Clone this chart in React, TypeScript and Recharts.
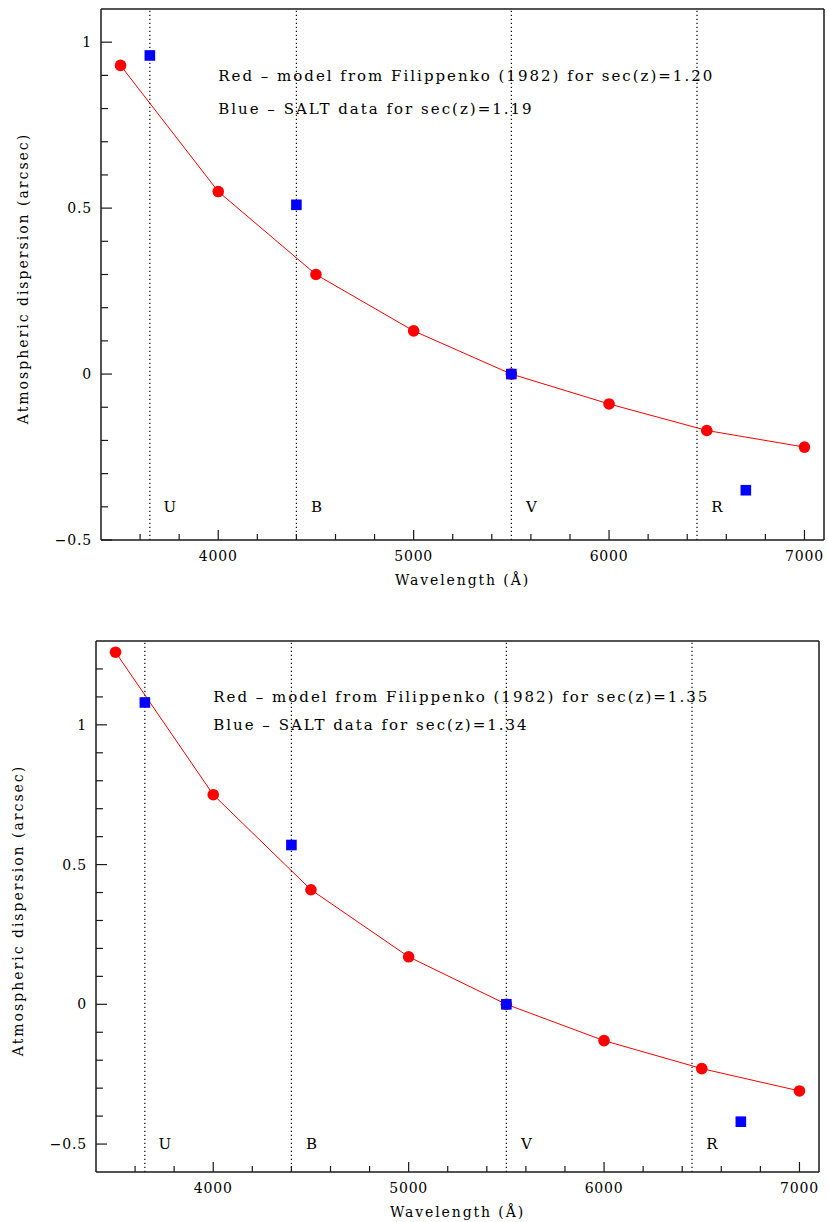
import {
  ComposedChart,
  Line,
  Scatter,
  XAxis,
  YAxis,
  ReferenceLine,
  ReferenceDot,
  Label,
} from "recharts";

// model (Filippenko 1982) and SALT measurements
const wavelengths = [3500, 4000, 4500, 5000, 5500, 6000, 6500, 7000];
const modelTop = [0.93, 0.55, 0.3, 0.13, 0, -0.09, -0.17, -0.22];
const modelBottom = [1.26, 0.75, 0.41, 0.17, 0, -0.13, -0.23, -0.31];

const saltWavelengths = [3650, 4400, 5500, 6700];
const saltTop = [0.96, 0.51, 0, -0.35];
const saltBottom = [1.08, 0.57, 0, -0.42];

const bandNames = ["U", "B", "V", "R"];
const bandWavelengths = [3650, 4400, 5500, 6450];

const xTicks = [
  3600, 3800, 4000, 4200, 4400, 4600, 4800, 5000, 5200, 5400, 5600, 5800,
  6000, 6200, 6400, 6600, 6800, 7000,
];
const yTicksTop = [
  -0.5, -0.4, -0.3, -0.2, -0.1, 0, 0.1, 0.2, 0.3, 0.4, 0.5, 0.6, 0.7, 0.8,
  0.9, 1.0,
];
const yTicksBottom = [
  -0.5, -0.4, -0.3, -0.2, -0.1, 0, 0.1, 0.2, 0.3, 0.4, 0.5, 0.6, 0.7, 0.8,
  0.9, 1.0, 1.1, 1.2,
];

const notesTop = [
  "Red – model from Filippenko (1982) for sec(z)=1.20",
  "Blue – SALT data for sec(z)=1.19",
];
const notesBottom = [
  "Red – model from Filippenko (1982) for sec(z)=1.35",
  "Blue – SALT data for sec(z)=1.34",
];

const FONT = "'DejaVu Serif', serif";
const INK = "#1a1a1a";

const fmtY = (v: number) => {
  const s = String(Math.abs(v));
  return v < 0 ? "\u2212" + s : s;
};
const isMajorY = (v: number) => Math.abs(v * 2 - Math.round(v * 2)) < 1e-6;
const isMajorX = (v: number) => v % 1000 === 0;

function BottomTick(props: any) {
  const { x, y, payload } = props;
  const v = payload.value;
  const major = isMajorX(v);
  return (
    <g>
      <line x1={x} y1={y} x2={x} y2={y - (major ? 10 : 6)} stroke={INK} strokeWidth={1.2} />
      {major && (
        <text x={x} y={y + 21} textAnchor="middle" fontFamily={FONT} fontSize={14} letterSpacing={0.8} fill="#000">
          {v}
        </text>
      )}
    </g>
  );
}

function TopTick(props: any) {
  const { x, y, payload } = props;
  const major = isMajorX(payload.value);
  return <line x1={x} y1={y} x2={x} y2={y + (major ? 10 : 6)} stroke={INK} strokeWidth={1.2} />;
}

function LeftTick(props: any) {
  const { x, y, payload } = props;
  const v = payload.value;
  const major = isMajorY(v);
  return (
    <g>
      <line x1={x} y1={y} x2={x + (major ? 11 : 7)} y2={y} stroke={INK} strokeWidth={1.2} />
      {major && (
        <text x={x - 9} y={y} dy="0.36em" textAnchor="end" fontFamily={FONT} fontSize={14} letterSpacing={0.8} fill="#000">
          {fmtY(v)}
        </text>
      )}
    </g>
  );
}

function RightTick(props: any) {
  const { x, y, payload } = props;
  const major = isMajorY(payload.value);
  return <line x1={x} y1={y} x2={x - (major ? 11 : 7)} y2={y} stroke={INK} strokeWidth={1.2} />;
}

interface PanelProps {
  model: number[];
  salt: number[];
  yDomain: [number, number];
  yTicks: number[];
  notes: string[];
  noteY: number[];
  bandLabelY: number;
  height: number;
  margin: { top: number; right: number; bottom: number; left: number };
}

function Panel({ model, salt, yDomain, yTicks, notes, noteY, bandLabelY, height, margin }: PanelProps) {
  const modelData = wavelengths.map((x, i) => ({ x, y: model[i] }));
  const saltData = saltWavelengths.map((x, i) => ({ x, y: salt[i] }));
  const axisLine = { stroke: INK, strokeWidth: 1.5 };
  return (
    <ComposedChart width={828} height={height} margin={margin}>
      <XAxis
        xAxisId="b"
        dataKey="x"
        type="number"
        domain={[3400, 7100]}
        ticks={xTicks}
        interval={0}
        tickSize={0}
        tickMargin={0}
        tickLine={false}
        axisLine={axisLine}
        tick={<BottomTick />}
        height={50}
      >
        <Label
          content={(p: any) => {
            const vb = p.viewBox;
            return (
              <text x={vb.x + vb.width / 2} y={vb.y + 45} textAnchor="middle" fontFamily={FONT} fontSize={14} letterSpacing={1.9} fill="#000">
                Wavelength (Å)
              </text>
            );
          }}
        />
      </XAxis>
      <XAxis
        xAxisId="t"
        orientation="top"
        dataKey="x"
        type="number"
        domain={[3400, 7100]}
        ticks={xTicks}
        interval={0}
        tickSize={0}
        tickMargin={0}
        tickLine={false}
        axisLine={axisLine}
        tick={<TopTick />}
        height={1}
      />
      <YAxis
        yAxisId="l"
        dataKey="y"
        type="number"
        domain={yDomain}
        ticks={yTicks}
        interval={0}
        tickSize={0}
        tickMargin={0}
        tickLine={false}
        axisLine={axisLine}
        tick={<LeftTick />}
        width={70}
      >
        <Label
          content={(p: any) => {
            const vb = p.viewBox;
            const cx = vb.x + vb.width - 78;
            const cy = vb.y + vb.height / 2 + 4;
            return (
              <text x={cx} y={cy} dy="0.36em" transform={`rotate(-90 ${cx} ${cy})`} textAnchor="middle" fontFamily={FONT} fontSize={14} letterSpacing={2} fill="#000">
                Atmospheric dispersion (arcsec)
              </text>
            );
          }}
        />
      </YAxis>
      <YAxis
        yAxisId="r"
        orientation="right"
        type="number"
        domain={yDomain}
        ticks={yTicks}
        interval={0}
        tickSize={0}
        tickMargin={0}
        tickLine={false}
        axisLine={axisLine}
        tick={<RightTick />}
        width={1}
      />
      {bandWavelengths.map((wl) => (
        <ReferenceLine key={wl} xAxisId="b" yAxisId="l" x={wl} stroke="#000" strokeWidth={1.2} strokeDasharray="1.3 2.7" />
      ))}
      {bandWavelengths.map((wl, i) => (
        <ReferenceDot
          key={"lab" + wl}
          xAxisId="b"
          yAxisId="l"
          x={wl}
          y={bandLabelY}
          r={0}
          shape={(p: any) => (
            <text x={p.cx + 20} y={p.cy} dy="0.36em" textAnchor="middle" fontFamily={FONT} fontSize={15} fill="#000">
              {bandNames[i]}
            </text>
          )}
        />
      ))}
      {notes.map((n, i) => (
        <ReferenceDot
          key={"note" + i}
          xAxisId="b"
          yAxisId="l"
          x={4000}
          y={noteY[i]}
          r={0}
          shape={(p: any) => (
            <text x={p.cx} y={p.cy} dy="0.36em" fontFamily={FONT} fontSize={15} letterSpacing={2} fill="#000">
              {n}
            </text>
          )}
        />
      ))}
      <Line
        xAxisId="b"
        yAxisId="l"
        data={modelData}
        dataKey="y"
        type="linear"
        stroke="#ff0000"
        strokeWidth={1}
        dot={{ r: 5.8, fill: "#ff0000", stroke: "#ff0000", strokeWidth: 0 }}
        isAnimationActive={false}
      />
      <Scatter
        xAxisId="b"
        yAxisId="l"
        data={saltData}
        dataKey="y"
        fill="#0000ff"
        shape={(p: any) => <rect x={p.cx - 5.3} y={p.cy - 5.3} width={10.6} height={10.6} fill="#0000ff" />}
        isAnimationActive={false}
      />
    </ComposedChart>
  );
}

export default function App() {
  return (
    <div style={{ position: "absolute", left: 0, top: 0, width: 828, height: 1222, background: "#fff" }}>
      <Panel
        model={modelTop}
        salt={saltTop}
        yDomain={[-0.5, 1.1]}
        yTicks={yTicksTop}
        notes={notesTop}
        noteY={[0.9, 0.8]}
        bandLabelY={-0.4}
        height={600}
        margin={{ top: 8, right: 3, bottom: 10, left: 31 }}
      />
      <Panel
        model={modelBottom}
        salt={saltBottom}
        yDomain={[-0.6, 1.3]}
        yTicks={yTicksBottom}
        notes={notesBottom}
        noteY={[1.1, 1.0]}
        bandLabelY={-0.5}
        height={622}
        margin={{ top: 40, right: 8, bottom: 0, left: 26 }}
      />
    </div>
  );
}
